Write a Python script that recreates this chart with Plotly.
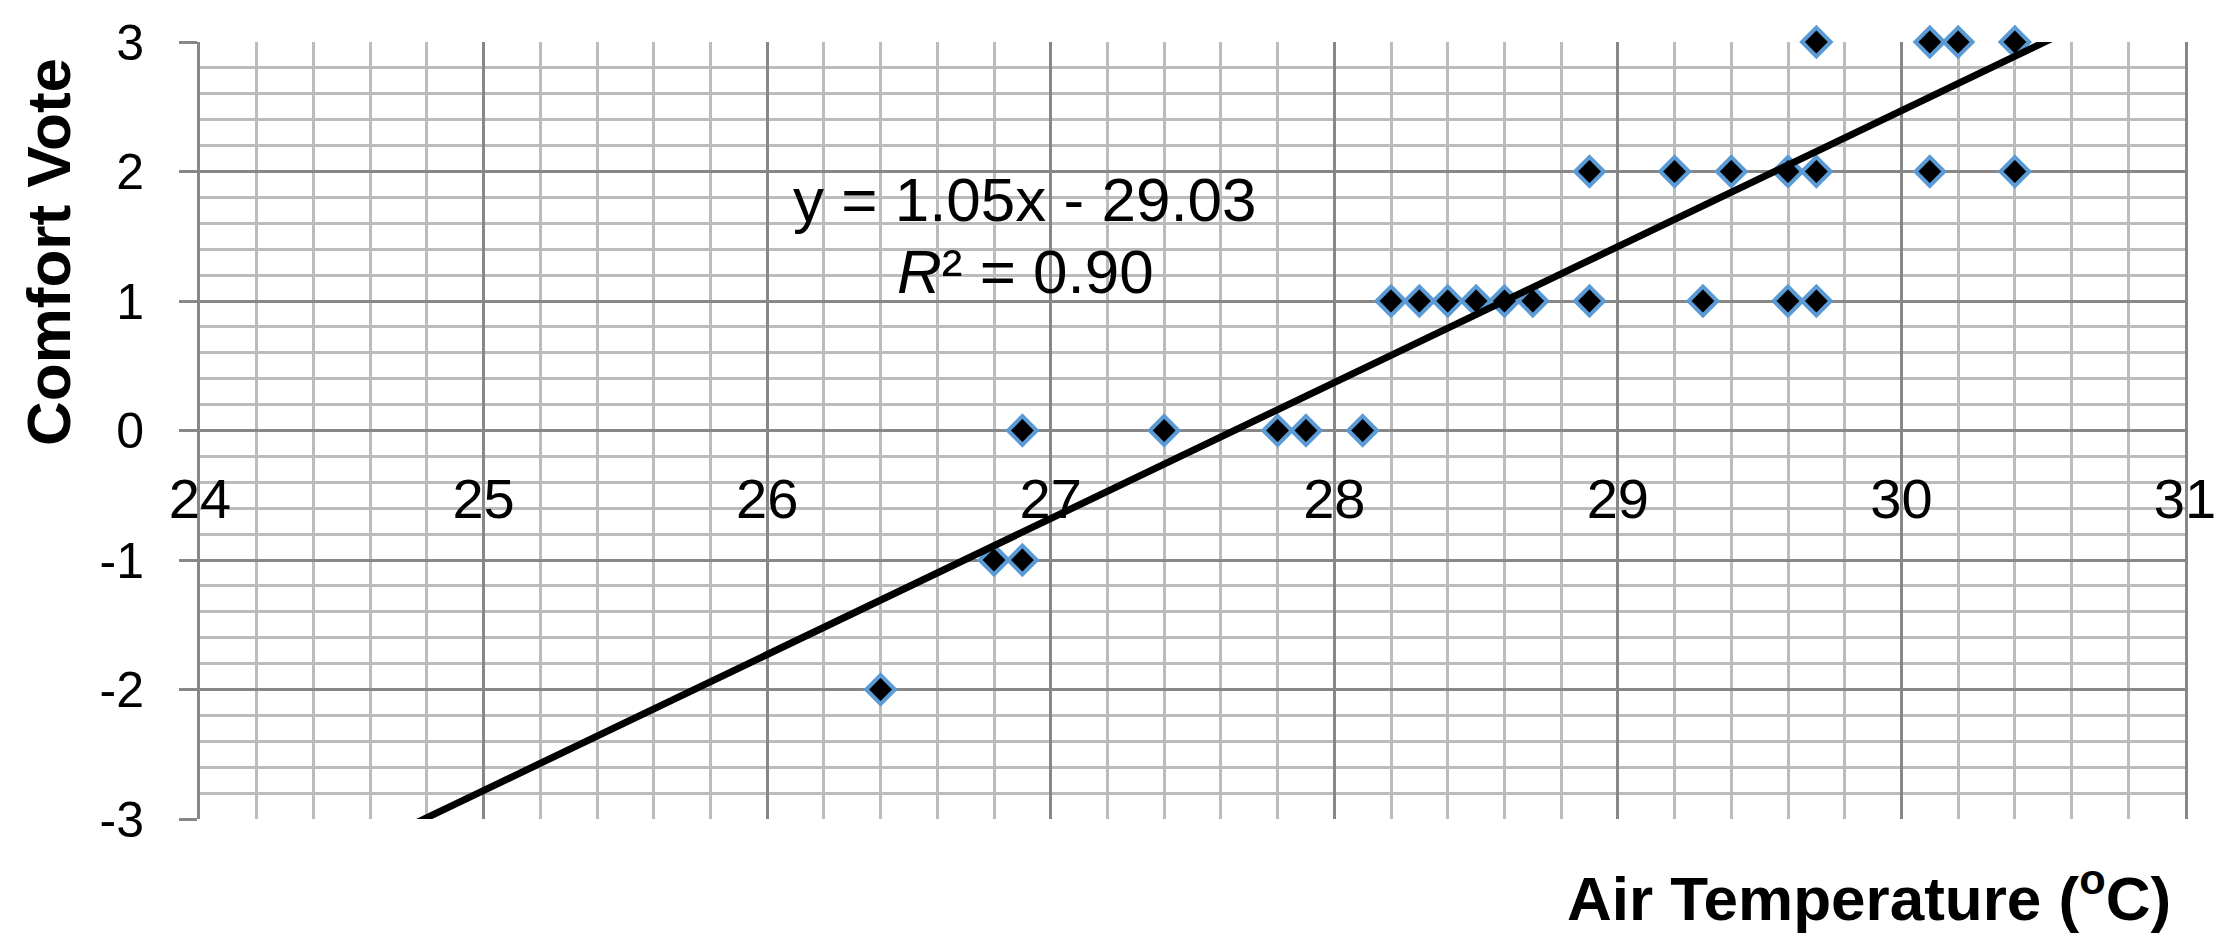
import plotly.graph_objects as go

# ---- data ----
air_temp = [26.4, 26.8, 26.9, 26.9, 27.4, 27.8, 27.9, 28.1,
            28.2, 28.3, 28.4, 28.5, 28.6, 28.7, 28.9, 29.3, 29.6, 29.7,
            28.9, 29.2, 29.4, 29.6, 29.7, 30.1, 30.4,
            29.7, 30.1, 30.2, 30.4]
comfort_vote = [-2, -1, -1, 0, 0, 0, 0, 0,
                1, 1, 1, 1, 1, 1, 1, 1, 1, 1,
                2, 2, 2, 2, 2, 2, 2,
                3, 3, 3, 3]
slope = 1.05
intercept = -29.03
r_squared = 0.90
x_ticks = [24, 25, 26, 27, 28, 29, 30, 31]
y_ticks = [-3, -2, -1, 0, 1, 2, 3]
x_title = "Air Temperature (<sup>o</sup>C)"
y_title = "Comfort Vote"

FONT = "Liberation Sans, Arial, sans-serif"
MAJOR = "#878787"
MINOR = "#bcbcbc"

trend_x = [x_ticks[0], x_ticks[-1]]
trend_y = [slope * v + intercept for v in trend_x]

fig = go.Figure()
fig.add_trace(go.Scatter(
    x=air_temp, y=comfort_vote, mode="markers",
    marker=dict(symbol="diamond", size=22, color="black",
                line=dict(color="#5B9BD5", width=4)),
    cliponaxis=False, showlegend=False))
fig.add_trace(go.Scatter(
    x=trend_x, y=trend_y, mode="lines",
    line=dict(color="black", width=7), showlegend=False))

sign = "-" if intercept < 0 else "+"
fig.add_annotation(x=26.91, y=1.78, xref="x", yref="y",
                   text=f"y = {slope:.2f}x {sign} {abs(intercept):.2f}",
                   showarrow=False, font=dict(family=FONT, size=62, color="black"))
fig.add_annotation(x=26.91, y=1.23, xref="x", yref="y",
                   text=f"<i>R</i>² = {r_squared:.2f}",
                   showarrow=False, font=dict(family=FONT, size=62, color="black"))

fig.add_annotation(x=1, y=0, xref="paper", yref="paper", xanchor="right", yanchor="middle",
                   xshift=-12, yshift=-75, text=f"<b>{x_title}</b>", showarrow=False,
                   font=dict(family=FONT, size=62, color="black"))
fig.add_annotation(x=0, y=1, xref="paper", yref="paper", xanchor="center", yanchor="middle",
                   xshift=-152, yshift=-210, textangle=-90, text=f"<b>{y_title}</b>",
                   showarrow=False, font=dict(family=FONT, size=62, color="black"))

fig.update_xaxes(
    range=[x_ticks[0], x_ticks[-1]], tickmode="array", tickvals=x_ticks,
    ticktext=[str(v) for v in x_ticks],
    anchor="free", position=0.5, showline=False, zeroline=False,
    showgrid=True, gridcolor=MAJOR, gridwidth=3, ticks="",
    ticklabelstandoff=30,
    tickfont=dict(family=FONT, size=56, color="black"),
    minor=dict(dtick=0.2, showgrid=True, gridcolor=MINOR, gridwidth=3, ticks=""))
fig.update_yaxes(
    range=[y_ticks[0], y_ticks[-1]], tickmode="array", tickvals=y_ticks,
    ticktext=[str(v) for v in y_ticks],
    showline=True, linecolor=MAJOR, linewidth=3, mirror=True, zeroline=False,
    showgrid=True, gridcolor=MAJOR, gridwidth=3,
    ticks="outside", ticklen=18, tickwidth=3, tickcolor=MAJOR,
    ticklabelstandoff=25,
    tickfont=dict(family=FONT, size=50, color="black"),
    minor=dict(dtick=0.2, showgrid=True, gridcolor=MINOR, gridwidth=3, ticks=""))

fig.update_layout(
    width=2231, height=939,
    margin=dict(l=192, r=54, t=34, b=128, autoexpand=False),
    plot_bgcolor="white", paper_bgcolor="white",
    font=dict(family=FONT, color="black"))

fig.write_html("out.html")
